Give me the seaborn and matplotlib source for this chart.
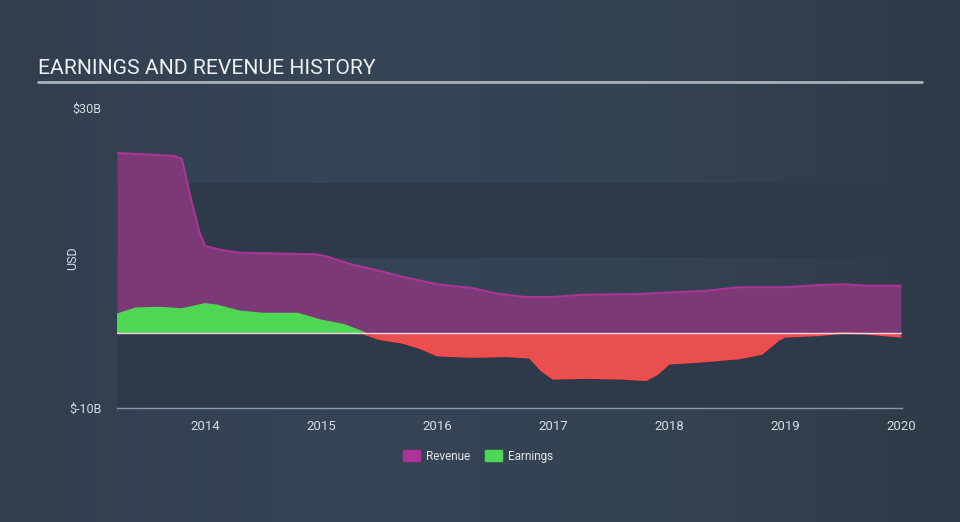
import numpy as np
import pandas as pd
import matplotlib
matplotlib.use("Agg")
import matplotlib.pyplot as plt
from matplotlib.colors import LinearSegmentedColormap
from matplotlib.patches import Patch
import seaborn as sns

# ---- data (USD billions, time in fractional years) ----
rev_year = [2013.24, 2013.5, 2013.74, 2013.80, 2013.86, 2013.95, 2014.0, 2014.13, 2014.3,
            2014.6, 2014.95, 2015.05, 2015.25, 2015.5, 2015.7, 2016.0, 2016.3, 2016.5,
            2016.75, 2017.0, 2017.25, 2017.75, 2018.0, 2018.3, 2018.6, 2019.0, 2019.3,
            2019.5, 2019.7, 2020.0]
revenue = [24.0, 23.8, 23.6, 23.2, 19.0, 13.5, 11.6, 11.1, 10.7,
           10.6, 10.5, 10.2, 9.2, 8.3, 7.5, 6.5, 6.0, 5.3,
           4.8, 4.8, 5.1, 5.2, 5.4, 5.6, 6.1, 6.1, 6.4,
           6.5, 6.3, 6.3]

earn_year = [2013.24, 2013.4, 2013.6, 2013.8, 2014.0, 2014.1, 2014.3, 2014.5, 2014.8,
             2015.0, 2015.2, 2015.35, 2015.5, 2015.7, 2015.85, 2016.0, 2016.3, 2016.6,
             2016.8, 2016.9, 2017.0, 2017.3, 2017.6, 2017.8, 2017.9, 2018.0, 2018.3,
             2018.6, 2018.8, 2018.95, 2019.0, 2019.3, 2019.5, 2019.7, 2020.0]
earnings = [2.6, 3.4, 3.5, 3.3, 4.0, 3.8, 3.0, 2.7, 2.7,
            1.8, 1.2, 0.3, -0.8, -1.3, -2.0, -3.0, -3.2, -3.1,
            -3.3, -5.0, -6.1, -6.0, -6.1, -6.3, -5.5, -4.1, -3.8,
            -3.4, -2.8, -0.9, -0.5, -0.3, 0.1, -0.1, -0.5]

year_ticks = [2014, 2015, 2016, 2017, 2018, 2019, 2020]
y_ticks = [-10, 30]
y_labels = ["$-10B", "$30B"]

rev_df = pd.DataFrame({"year": rev_year, "value": revenue})
earn_df = pd.DataFrame({"year": earn_year, "value": earnings})

sns.set_style("dark")
plt.rcParams["font.family"] = ["Roboto", "DejaVu Sans"]

W, H = 960, 522
fig = plt.figure(figsize=(W / 100, H / 100), dpi=100)

# background gradient
bg = fig.add_axes([0, 0, 1, 1], zorder=-10)
cmap = LinearSegmentedColormap.from_list("bg", ["#323e4e", "#354556", "#344352", "#303a48"])
bg.imshow(np.linspace(0, 1, 256)[None, :], aspect="auto", cmap=cmap, extent=[0, 1, 0, 1])
bg.set_axis_off()

# title + underline
fig.text(38 / W, 1 - 68 / H, "EARNINGS AND REVENUE HISTORY", color="#eef0f2",
         fontsize=15.2, va="center", ha="left")
fig.add_artist(plt.Line2D([38 / W, 922 / W], [1 - 82 / H, 1 - 82 / H],
                          color="#a9b0b8", lw=2, transform=fig.transFigure))

left, right, top, bottom = 117, 902, 108, 408
ax = fig.add_axes([left / W, 1 - bottom / H, (right - left) / W, (bottom - top) / H])
ax.set_facecolor("none")
ax.set_xlim(2013.24, 2020.01)
ax.set_ylim(-10, 30)

# alternating darker bands
ax.axhspan(-10, 0, color="#2e3a4a", zorder=0, lw=0)
ax.axhspan(10, 20, color="#2e3a4a", zorder=0, lw=0)

# revenue
ax.fill_between(rev_df["year"], 0, rev_df["value"], color="#7b3a76", lw=0, zorder=2)
sns.lineplot(data=rev_df, x="year", y="value", ax=ax, color="#a93597", lw=1.5, zorder=3)

# earnings
ex = earn_df["year"].to_numpy()
ev = earn_df["value"].to_numpy()
ax.fill_between(ex, 0, ev, where=ev >= 0, interpolate=True, color="#4fd655", lw=0, zorder=4)
ax.fill_between(ex, 0, ev, where=ev <= 0, interpolate=True, color="#e94f4f", lw=0, zorder=4)
neg_mask = ex >= 2015.35
ax.plot(ex[neg_mask], np.minimum(ev[neg_mask], 0), color="#ff4a4a", lw=1.2, zorder=5)

ax.axhline(0, color="#f2d6e4", lw=1, zorder=6)

# axes styling
for s in ["top", "right", "left"]:
    ax.spines[s].set_visible(False)
ax.spines["bottom"].set_color("#8898aa")
ax.spines["bottom"].set_linewidth(1)
ax.set_xticks(year_ticks)
ax.set_xticklabels([str(y) for y in year_ticks])
ax.tick_params(axis="x", colors="#8898aa", length=6, width=1, direction="out",
               labelcolor="#d8dce1", labelsize=9.5, pad=3)
ax.set_yticks(y_ticks)
ax.set_yticklabels(y_labels)
ax.tick_params(axis="y", length=0, labelcolor="#d8dce1", labelsize=9, pad=11)
ax.set_xlabel("")
ax.set_ylabel("USD", color="#d8dce1", fontsize=9)
ax.yaxis.set_label_coords(-(117 - 79) / (right - left), 0.5)
ax.grid(False)

handles = [Patch(color="#a93597", label="Revenue"), Patch(color="#4fd655", label="Earnings")]
leg = fig.legend(handles=handles, loc="center", bbox_to_anchor=(478 / W, 1 - 456 / H),
                 ncol=2, frameon=False, fontsize=8.5, labelcolor="#e4e6e9",
                 handlelength=1.4, handleheight=1.0, columnspacing=1.3, handletextpad=0.5)

fig.savefig("out.png", dpi=100)
